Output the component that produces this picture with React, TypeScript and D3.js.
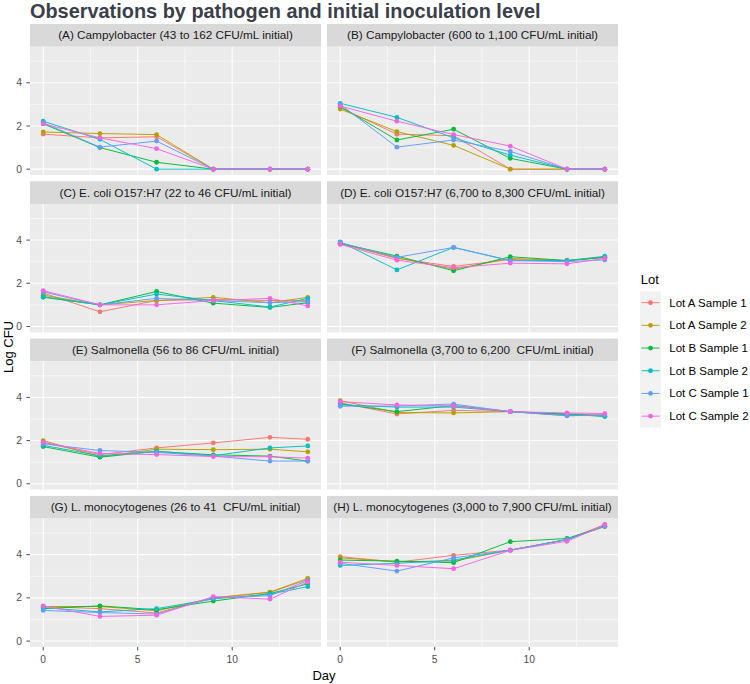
import React from "react";
import * as d3 from "d3";

const days = [0, 3, 6, 9, 12, 14];
const lots = ["Lot A Sample 1", "Lot A Sample 2", "Lot B Sample 1", "Lot B Sample 2", "Lot C Sample 1", "Lot C Sample 2"];
const lotColors = ["#F8766D", "#B79F00", "#00BA38", "#00BFC4", "#619CFF", "#F564E3"];
const panelTitles = [
  "(A) Campylobacter (43 to 162 CFU/mL initial)",
  "(B) Campylobacter (600 to 1,100 CFU/mL initial)",
  "(C) E. coli O157:H7 (22 to 46 CFU/mL initial)",
  "(D) E. coli O157:H7 (6,700 to 8,300 CFU/mL initial)",
  "(E) Salmonella (56 to 86 CFU/mL initial)",
  "(F) Salmonella (3,700 to 6,200  CFU/mL initial)",
  "(G) L. monocytogenes (26 to 41  CFU/mL initial)",
  "(H) L. monocytogenes (3,000 to 7,900 CFU/mL initial)",
];
const xTicks = [0, 5, 10];
const xMinor = [2.5, 7.5, 12.5];
const yTicks = [0, 2, 4];
const yMinor = [1, 3, 5];

// values per lot (order of lots), per day
const campyLow = [
  [1.62, 1.45, 1.5, 0, 0, 0],
  [1.72, 1.65, 1.6, 0, 0, 0],
  [2.1, 1.0, 0.32, 0, 0, 0],
  [2.22, 1.38, 0, 0, 0, 0],
  [2.15, 1.02, 1.3, 0, 0, 0],
  [2.1, 1.45, 0.95, 0, 0, 0],
];
const campyHigh = [
  [2.85, 1.62, 1.55, 0, 0, 0],
  [2.78, 1.74, 1.1, 0, 0, 0],
  [2.9, 1.35, 1.85, 0.5, 0, 0],
  [3.05, 2.4, 1.45, 0.65, 0, 0],
  [3.0, 1.02, 1.35, 0.82, 0, 0],
  [2.92, 2.22, 1.6, 1.07, 0, 0],
];
const ecoliLow = [
  [1.55, 0.68, 1.2, 1.25, 1.2, 1.2],
  [1.45, 1.0, 1.2, 1.35, 1.1, 1.35],
  [1.35, 1.0, 1.62, 1.08, 0.88, 1.1],
  [1.38, 1.0, 1.5, 1.2, 0.9, 1.3],
  [1.6, 1.0, 1.3, 1.2, 1.1, 1.15],
  [1.66, 1.0, 1.0, 1.2, 1.3, 0.95],
];
const ecoliHigh = [
  [3.85, 3.15, 2.78, 3.1, 3.05, 3.2],
  [3.85, 3.18, 2.65, 3.15, 3.05, 3.2],
  [3.85, 3.26, 2.58, 3.23, 3.05, 3.2],
  [3.92, 2.62, 3.66, 3.05, 3.05, 3.25],
  [3.88, 3.2, 3.66, 3.05, 3.0, 3.08],
  [3.8, 3.07, 2.72, 2.93, 2.9, 3.15],
];
const salmLow = [
  [1.9, 1.35, 1.66, 1.89, 2.15, 2.06],
  [2.0, 1.25, 1.6, 1.58, 1.6, 1.48],
  [1.72, 1.23, 1.5, 1.34, 1.28, 1.05],
  [1.78, 1.3, 1.5, 1.3, 1.66, 1.75],
  [1.85, 1.54, 1.45, 1.28, 1.05, 1.05],
  [1.92, 1.4, 1.35, 1.26, 1.25, 1.19],
];
const salmHigh = [
  [3.75, 3.23, 3.4, 3.34, 3.23, 3.18],
  [3.85, 3.3, 3.28, 3.34, 3.15, 3.18],
  [3.7, 3.34, 3.62, 3.34, 3.23, 3.12],
  [3.65, 3.55, 3.55, 3.34, 3.2, 3.13],
  [3.59, 3.6, 3.69, 3.34, 3.15, 3.18],
  [3.8, 3.65, 3.6, 3.34, 3.28, 3.25],
];
const listLow = [
  [1.6, 1.5, 1.3, 2.0, 2.25, 2.85],
  [1.6, 1.6, 1.4, 2.0, 2.27, 2.9],
  [1.5, 1.63, 1.45, 1.85, 2.2, 2.65],
  [1.55, 1.35, 1.5, 1.95, 2.17, 2.52],
  [1.42, 1.32, 1.25, 2.0, 2.1, 2.8],
  [1.63, 1.14, 1.2, 2.06, 1.94, 2.74],
];
const listHigh = [
  [3.91, 3.65, 3.97, 4.21, 4.7, 5.4],
  [3.85, 3.68, 3.7, 4.21, 4.7, 5.3],
  [3.75, 3.7, 3.63, 4.6, 4.75, 5.32],
  [3.5, 3.6, 3.75, 4.21, 4.7, 5.32],
  [3.6, 3.24, 3.85, 4.21, 4.7, 5.32],
  [3.65, 3.5, 3.35, 4.2, 4.62, 5.38],
];

const panelData = [campyLow, campyHigh, ecoliLow, ecoliHigh, salmLow, salmHigh, listLow, listHigh];

const FONT = "'Liberation Sans', Arial, Helvetica, sans-serif";
const colLeft = [30, 327];
const colWidth = 291;
const rowTop0 = 24;
const rowPitch = 157.3;
const stripH = 22.7;
const panelH = 128.3;

export default function App() {
  const allVals = panelData.flat(2);
  const [vmin, vmax] = d3.extent(allVals) as [number, number];
  const yPad = (vmax - vmin) * 0.05;
  const [dmin, dmax] = d3.extent(days) as [number, number];
  const xPad = (dmax - dmin) * 0.05;

  const panels = panelData.map((data, i) => {
    const col = i % 2;
    const row = Math.floor(i / 2);
    const x0 = colLeft[col];
    const stripTop = rowTop0 + row * rowPitch;
    const pTop = stripTop + stripH;
    const pBottom = pTop + panelH;
    const x = d3.scaleLinear().domain([dmin - xPad, dmax + xPad]).range([x0, x0 + colWidth]);
    const y = d3.scaleLinear().domain([vmin - yPad, vmax + yPad]).range([pBottom, pTop]);
    const line = d3
      .line<number>()
      .x((_, j) => x(days[j]))
      .y((v) => y(v));
    return (
      <g key={i}>
        <rect x={x0} y={stripTop} width={colWidth} height={stripH} fill="#D9D9D9" />
        <text
          x={x0 + colWidth / 2}
          y={stripTop + stripH / 2 + 4.1}
          textAnchor="middle"
          fontSize={11.75}
          fill="#1A1A1A"
          style={{ whiteSpace: "pre" }}
        >
          {panelTitles[i]}
        </text>
        <rect x={x0} y={pTop} width={colWidth} height={panelH} fill="#EBEBEB" />
        {xMinor.map((t) => (
          <line key={"xm" + t} x1={x(t)} x2={x(t)} y1={pTop} y2={pBottom} stroke="#fff" strokeWidth={0.55} />
        ))}
        {yMinor.map((t) => (
          <line key={"ym" + t} x1={x0} x2={x0 + colWidth} y1={y(t)} y2={y(t)} stroke="#fff" strokeWidth={0.55} />
        ))}
        {xTicks.map((t) => (
          <line key={"xM" + t} x1={x(t)} x2={x(t)} y1={pTop} y2={pBottom} stroke="#fff" strokeWidth={1.1} />
        ))}
        {yTicks.map((t) => (
          <line key={"yM" + t} x1={x0} x2={x0 + colWidth} y1={y(t)} y2={y(t)} stroke="#fff" strokeWidth={1.1} />
        ))}
        {data.map((vals, k) => (
          <path key={"l" + k} d={line(vals) || ""} fill="none" stroke={lotColors[k]} strokeWidth={0.95} />
        ))}
        {data.map((vals, k) => (
          <g key={"p" + k}>
            {vals.map((v, j) => (
              <circle key={j} cx={x(days[j])} cy={y(v)} r={2.4} fill={lotColors[k]} />
            ))}
          </g>
        ))}
        {col === 0 &&
          yTicks.map((t) => (
            <g key={"yt" + t}>
              <line x1={x0 - 3.5} x2={x0} y1={y(t)} y2={y(t)} stroke="#333" strokeWidth={0.9} />
              <text x={x0 - 8} y={y(t) + 3.6} textAnchor="end" fontSize={10.3} fill="#4D4D4D">
                {t}
              </text>
            </g>
          ))}
        {row === 3 &&
          xTicks.map((t) => (
            <g key={"xt" + t}>
              <line x1={x(t)} x2={x(t)} y1={pBottom} y2={pBottom + 3.5} stroke="#333" strokeWidth={0.9} />
              <text x={x(t)} y={pBottom + 16.5} textAnchor="middle" fontSize={10.3} fill="#4D4D4D">
                {t}
              </text>
            </g>
          ))}
      </g>
    );
  });

  const legX = 640;
  const legKeyTop = 291.3;
  const keyH = 22.7;

  return (
    <svg
      width={750}
      height={684}
      style={{ position: "absolute", left: 0, top: 0, background: "#fff" }}
      fontFamily={FONT}
    >
      <rect x={0} y={0} width={750} height={684} fill="#fff" />
      <text x={30} y={17.5} fontSize={19.9} fontWeight="bold" fill="#3A404A">
        Observations by pathogen and initial inoculation level
      </text>
      {panels}
      <text x={324} y={680} textAnchor="middle" fontSize={13} fill="#000">
        Day
      </text>
      <text
        transform={`translate(12.5, 347) rotate(-90)`}
        textAnchor="middle"
        fontSize={13}
        fill="#000"
      >
        Log CFU
      </text>
      <text x={legX + 0.7} y={284} fontSize={13} fill="#000">
        Lot
      </text>
      <rect x={legX} y={legKeyTop} width={21} height={keyH * lots.length} fill="#F2F2F2" />
      {lots.map((lot, k) => {
        const cy = legKeyTop + keyH * k + keyH / 2;
        return (
          <g key={lot}>
            <line x1={legX + 1.5} x2={legX + 19.5} y1={cy} y2={cy} stroke={lotColors[k]} strokeWidth={0.95} />
            <circle cx={legX + 10.5} cy={cy} r={2.4} fill={lotColors[k]} />
            <text x={669.3} y={cy + 4} fontSize={11.5} fill="#000">
              {lot}
            </text>
          </g>
        );
      })}
    </svg>
  );
}
